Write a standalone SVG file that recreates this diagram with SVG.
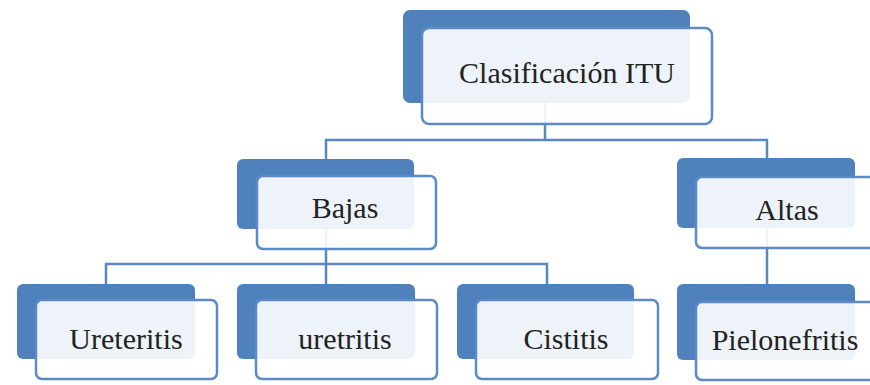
<svg xmlns="http://www.w3.org/2000/svg" width="870" height="385" viewBox="0 0 870 385">
<style>
.back{fill:#4f81bd;}
.front{fill:#ffffff;fill-opacity:0.9;stroke:#5b8ac6;stroke-width:2.5;}
.conn{fill:none;stroke:#5b86bf;stroke-width:2.5;}
.lbl{font-family:"Liberation Serif","DejaVu Serif",serif;font-size:30px;fill:#222;text-anchor:middle;}
</style>
<rect width="870" height="385" fill="#ffffff"/>
<g id="connectors">
<path class="conn" d="M545,102 V140 H326 V160 M545,140 H767 V160"/>
<path class="conn" d="M326,228 V264 H106 V285 M326,264 H547 V285 M326,264 V285"/>
<path class="conn" d="M767,228 V285"/>
</g>
<g id="node-clasificacion">
<rect class="back" x="403" y="10" width="287" height="93" rx="7"/>
<rect class="front" x="422" y="28" width="290" height="96" rx="7"/>
<text class="lbl" x="567" y="83">Clasificación ITU</text>
</g>
<g id="node-bajas">
<rect class="back" x="237" y="159" width="177" height="70" rx="6"/>
<rect class="front" x="257" y="176" width="179" height="73" rx="6"/>
<text class="lbl" x="345" y="218">Bajas</text>
</g>
<g id="node-altas">
<rect class="back" x="677" y="158" width="178" height="70" rx="6"/>
<rect class="front" x="696" y="177" width="179" height="71" rx="6"/>
<text class="lbl" x="787" y="220">Altas</text>
</g>
<g id="node-ureteritis">
<rect class="back" x="17" y="284" width="178" height="75" rx="6"/>
<rect class="front" x="36" y="300" width="181" height="79" rx="6"/>
<text class="lbl" x="126" y="349">Ureteritis</text>
</g>
<g id="node-uretritis">
<rect class="back" x="237" y="284" width="178" height="75" rx="6"/>
<rect class="front" x="256" y="300" width="181" height="79" rx="6"/>
<text class="lbl" x="345" y="349">uretritis</text>
</g>
<g id="node-cistitis">
<rect class="back" x="457" y="284" width="177" height="75" rx="6"/>
<rect class="front" x="476" y="300" width="182" height="79" rx="6"/>
<text class="lbl" x="566" y="349">Cistitis</text>
</g>
<g id="node-pielonefritis">
<rect class="back" x="677" y="284" width="178" height="76" rx="6"/>
<rect class="front" x="696" y="302" width="181" height="78" rx="6"/>
<text class="lbl" x="785" y="350">Pielonefritis</text>
</g>
</svg>
